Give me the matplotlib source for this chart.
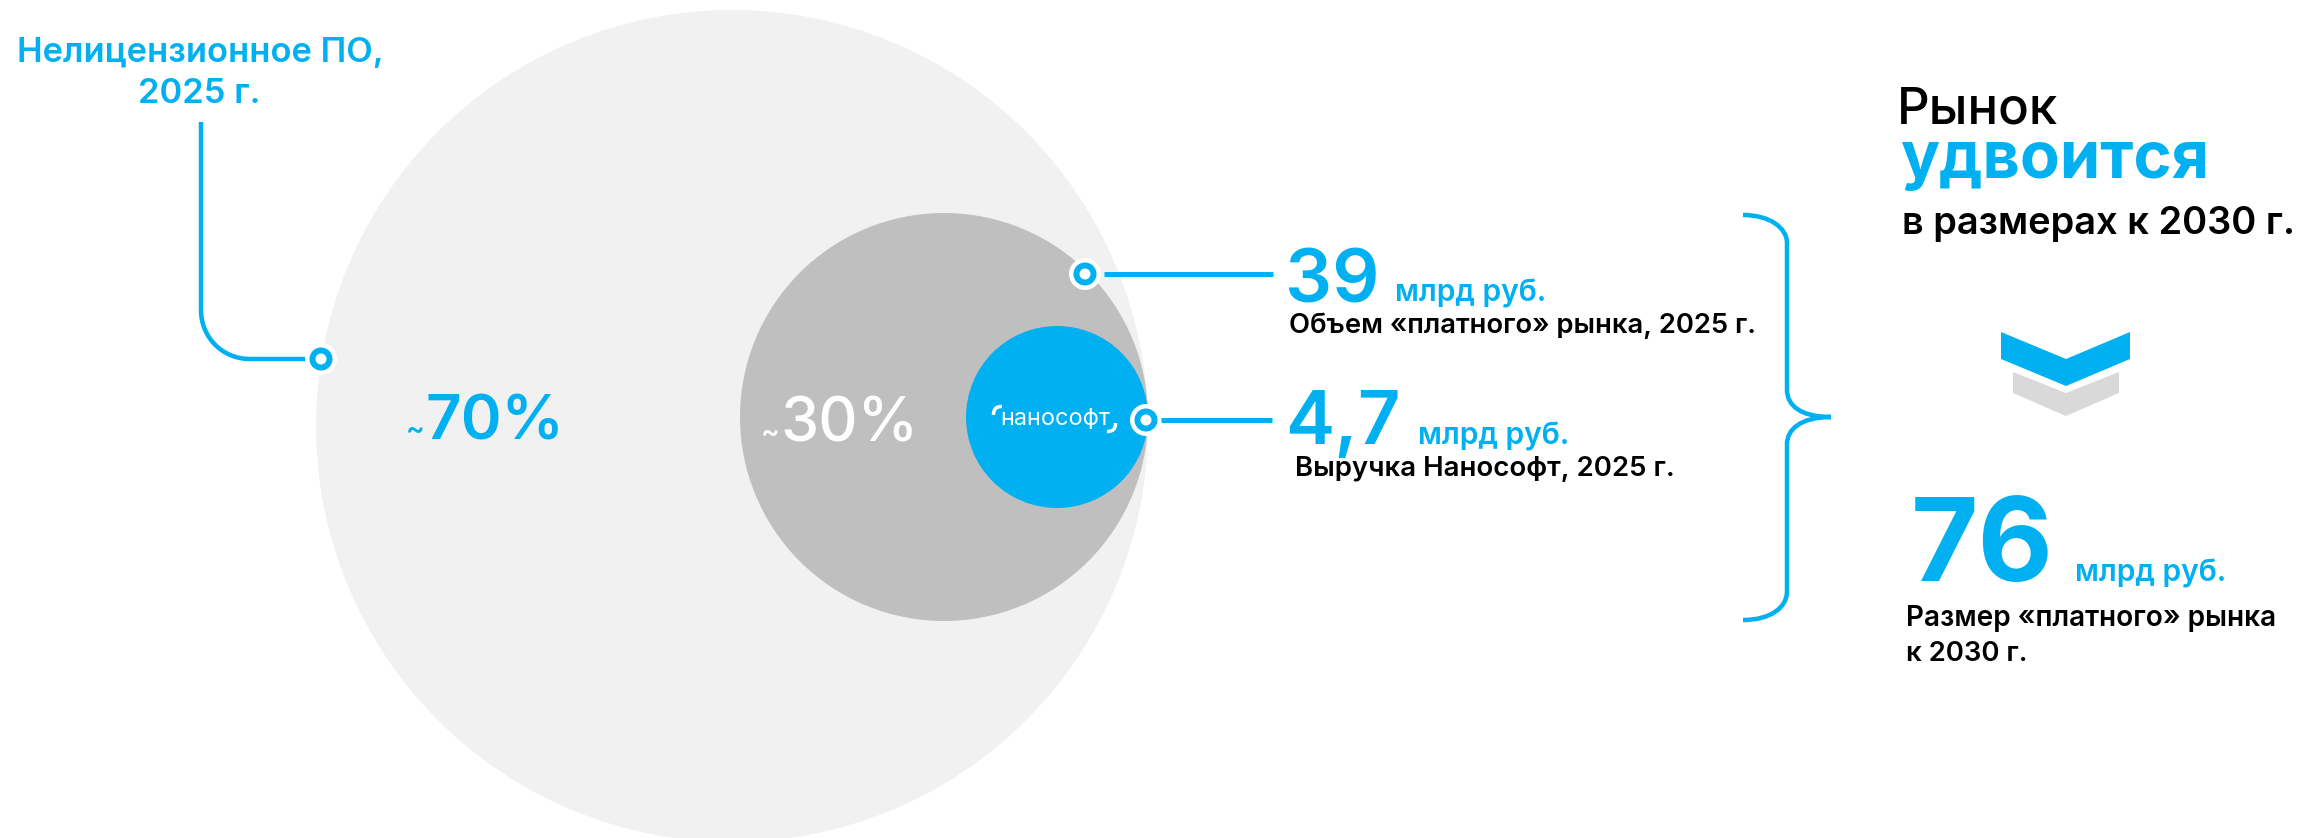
import matplotlib
matplotlib.use('Agg')
import matplotlib.pyplot as plt
from matplotlib.patches import Circle, Polygon
from matplotlib.path import Path
from matplotlib.patches import PathPatch

plt.rcParams['font.family'] = ['Inter', 'DejaVu Sans']

# Data
share_labels = ['70%', '30%']
paid_market = '39'
nanosoft_rev = '4,7'
market_2030 = '76'
unit = 'млрд руб.'

BLUE = '#00b0f0'

fig = plt.figure(figsize=(23.08, 8.38), dpi=100)
ax = fig.add_axes([0, 0, 1, 1])
ax.set_xlim(0, 2308)
ax.set_ylim(838, 0)
ax.axis('off')

# Circles
ax.add_patch(Circle((732, 426), 416, color='#f1f1f1', lw=0))
ax.add_patch(Circle((944, 417), 204, color='#bfbfbf', lw=0))
ax.add_patch(Circle((1057, 417), 91, color=BLUE, lw=0))


def px(h):
    # pixels to points
    return h * 72 / 100


def txt(x, y, s, size, color='black', weight='semibold', ha='left'):
    ax.text(x, y, s, fontsize=px(size), color=color, fontweight=weight, ha=ha, va='baseline')


# Leader lines
def curve(verts, codes, color=BLUE, width=4.5):
    ax.add_patch(PathPatch(Path(verts, codes), fc='none', ec=color, lw=px(width), capstyle='butt'))


M, L, C = Path.MOVETO, Path.LINETO, Path.CURVE4
curve([(201, 122), (201, 310), (201, 337), (222, 359), (250, 359), (305, 359)], [M, L, C, C, C, L])
ax.plot([1104, 1273], [274, 274], color=BLUE, lw=px(5), solid_capstyle='butt')
ax.plot([1161, 1272], [420, 420], color=BLUE, lw=px(5), solid_capstyle='butt')

# Markers
for mx, my in [(321, 359), (1085, 274), (1146, 420)]:
    ax.add_patch(Circle((mx, my), 16, color='white', lw=0))
    ax.add_patch(Circle((mx, my), 11.5, color=BLUE, lw=0))
    ax.add_patch(Circle((mx, my), 5.5, color='white', lw=0))

# Percent labels
txt(406, 438, '~', 28, BLUE, 'semibold')
txt(425, 439, share_labels[0], 62, BLUE, 'semibold')
txt(761, 441, '~', 28, 'white', 'semibold')
txt(780, 441, share_labels[1], 61, 'white', 'medium')

# Logo
txt(1055, 425, 'нанософт', 23.5, 'white', 'normal', ha='center')
curve([(993.5, 415), (993.5, 409), (996, 406.5), (1002, 406.5)], [M, C, C, C], 'white', 3.5)
curve([(1107, 431.5), (1113, 431.5), (1115.5, 429), (1115.5, 423)], [M, C, C, C], 'white', 3.5)

# Left label
txt(200, 62, 'Нелицензионное ПО,', 34.5, BLUE, ha='center')
txt(199, 103, '2025 г.', 34.5, BLUE, ha='center')

# Middle labels
txt(1285, 302, paid_market, 74, BLUE, 'semibold')
txt(1395, 301, unit, 30, BLUE)
txt(1289, 333, 'Объем «платного» рынка, 2025 г.', 27.4, 'black')
txt(1285, 444, nanosoft_rev, 74, BLUE, 'semibold')
txt(1418, 444, unit, 30, BLUE)
txt(1295, 476, 'Выручка Нанософт, 2025 г.', 27.6, 'black')

# Brace
curve([(1743, 215), (1770, 215), (1787, 228), (1787, 243),
       (1787, 390), (1787, 405), (1800, 417), (1831, 417),
       (1800, 417), (1787, 430), (1787, 444),
       (1787, 591), (1787, 608), (1770, 620), (1743, 620)],
      [M, C, C, C, L, C, C, C, C, C, C, L, C, C, C])

# Right column
txt(1897, 123, 'Рынок', 51, 'black', 'medium')
txt(1900, 178, 'удвоится', 65, BLUE, 'bold')
txt(1902, 234, 'в размерах к 2030 г.', 38, 'black')

# Chevrons
ax.add_patch(Polygon([(2013, 372), (2066, 393), (2119, 372), (2119, 393), (2066, 416), (2013, 393)], color='#d9d9d9', lw=0))
ax.add_patch(Polygon([(2001, 332), (2066, 359), (2130, 332), (2130, 359), (2066, 386), (2001, 359)], color=BLUE, lw=0))

txt(1911, 581, market_2030, 116, BLUE, 'bold')
txt(2075, 581, unit, 30, BLUE)
txt(1906, 626, 'Размер «платного» рынка', 28, 'black')
txt(1906, 661, 'к 2030 г.', 27.5, 'black')

fig.savefig('out.png', dpi=100)
